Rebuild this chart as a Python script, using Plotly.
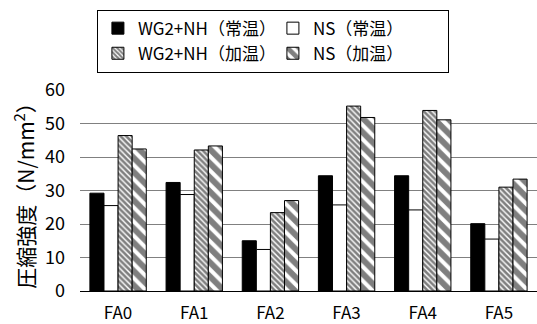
import plotly.graph_objects as go

categories = ["FA0", "FA1", "FA2", "FA3", "FA4", "FA5"]
wg2_normal = [29.2, 32.4, 15.0, 34.4, 34.4, 20.1]
ns_normal = [25.5, 28.8, 12.4, 25.7, 24.2, 15.5]
wg2_heated = [46.4, 42.1, 23.4, 55.2, 53.9, 31.0]
ns_heated = [42.4, 43.3, 27.0, 51.8, 51.1, 33.4]
series_names = ["WG2+NH（常温）", "NS（常温）", "WG2+NH（加温）", "NS（加温）"]
y_ticks = [0, 10, 20, 30, 40, 50, 60]

FONT = "Noto Sans CJK JP"
line = dict(color="black", width=1)

fig = go.Figure()
fig.add_trace(go.Bar(x=categories, y=wg2_normal, name=series_names[0],
                     marker=dict(color="black", line=line)))
fig.add_trace(go.Bar(x=categories, y=ns_normal, name=series_names[1],
                     marker=dict(color="white", line=line)))
fig.add_trace(go.Bar(x=categories, y=wg2_heated, name=series_names[2],
                     marker=dict(color="white", line=line,
                                 pattern=dict(shape="\\", size=4, solidity=0.65,
                                              fgcolor="black", bgcolor="white"))))
fig.add_trace(go.Bar(x=categories, y=ns_heated, name=series_names[3],
                     marker=dict(color="white", line=line,
                                 pattern=dict(shape="\\", size=10, solidity=0.6,
                                              fgcolor="black", bgcolor="white"))))

fig.update_layout(
    width=537, height=324,
    margin=dict(l=80, r=0, t=90, b=33),
    paper_bgcolor="white", plot_bgcolor="white",
    font=dict(family=FONT, size=16, color="black"),
    barmode="group", bargap=0.26, bargroupgap=0,
    showlegend=True,
    legend=dict(orientation="h", x=0.037, xanchor="left", y=1.4, yanchor="top",
                bordercolor="black", borderwidth=1, bgcolor="white",
                font=dict(family=FONT, size=17), entrywidth=130, entrywidthmode="pixels",
                itemwidth=30, tracegroupgap=0, traceorder="normal"),
    xaxis=dict(showline=False, ticks="", showgrid=False, tickfont=dict(size=17),
               ticklabelstandoff=10),
    yaxis=dict(range=[0, 60], tickvals=y_ticks, showgrid=True, gridcolor="#808080",
               gridwidth=1, zeroline=True, zerolinecolor="black", zerolinewidth=1,
               showline=False, ticks="", tickfont=dict(size=18), ticklabelstandoff=14,
               title=dict(text="圧縮強度（N/mm<sup>2</sup>）", font=dict(size=21), standoff=4)),
)

fig.write_html("out.html", config={"displayModeBar": False},
               post_script="document.body.style.margin='0';")
